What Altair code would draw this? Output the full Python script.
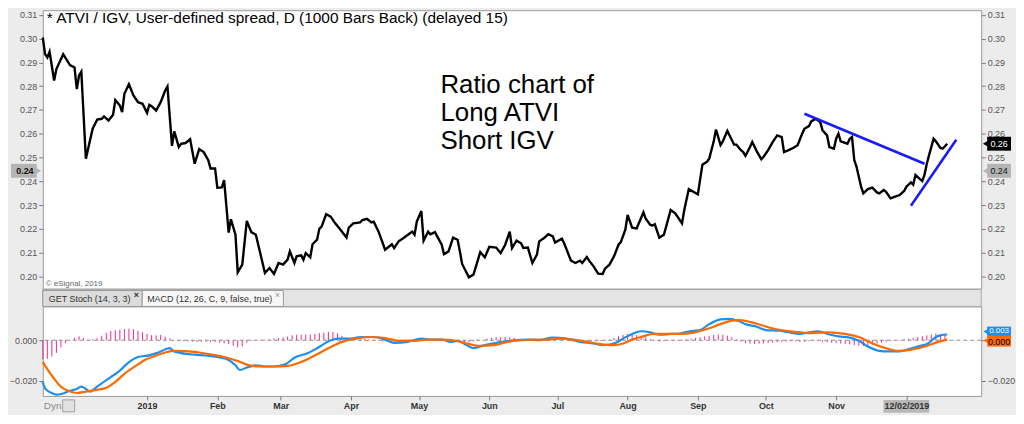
import altair as alt
import pandas as pd

FONT = "Liberation Sans"

# ---------------- data: ATVI / IGV ratio ----------------
ratio_dates = [
    "2018-11-16", "2018-11-17", "2018-11-18", "2018-11-19", "2018-11-21", "2018-11-22", "2018-11-25", "2018-11-28", "2018-11-30",
    "2018-12-01", "2018-12-02", "2018-12-03", "2018-12-05", "2018-12-08", "2018-12-10", "2018-12-12", "2018-12-13", "2018-12-15",
    "2018-12-17", "2018-12-18", "2018-12-20", "2018-12-21", "2018-12-22", "2018-12-24", "2018-12-26", "2018-12-28", "2018-12-30",
    "2019-01-01", "2019-01-02", "2019-01-03", "2019-01-05", "2019-01-07", "2019-01-09", "2019-01-10", "2019-01-12", "2019-01-13",
    "2019-01-15", "2019-01-16", "2019-01-18", "2019-01-20", "2019-01-22", "2019-01-24", "2019-01-26", "2019-01-28", "2019-01-29", "2019-01-31",
    "2019-02-01", "2019-02-03", "2019-02-04", "2019-02-06", "2019-02-07", "2019-02-09", "2019-02-10", "2019-02-12", "2019-02-14",
    "2019-02-16", "2019-02-18", "2019-02-22", "2019-02-24", "2019-02-26", "2019-02-28",
    "2019-03-02", "2019-03-04", "2019-03-05", "2019-03-07", "2019-03-08", "2019-03-10", "2019-03-11", "2019-03-12", "2019-03-14",
    "2019-03-15", "2019-03-17", "2019-03-18", "2019-03-19", "2019-03-21", "2019-03-23", "2019-03-25", "2019-03-27", "2019-03-28",
    "2019-03-30", "2019-03-31",
    "2019-04-02", "2019-04-05", "2019-04-06", "2019-04-08", "2019-04-10", "2019-04-11", "2019-04-13", "2019-04-15", "2019-04-16",
    "2019-04-19", "2019-04-20", "2019-04-22", "2019-04-24", "2019-04-27", "2019-04-28", "2019-04-29", "2019-04-30",
    "2019-05-02", "2019-05-03", "2019-05-05", "2019-05-06", "2019-05-08", "2019-05-09", "2019-05-11", "2019-05-12", "2019-05-14",
    "2019-05-16", "2019-05-18", "2019-05-19", "2019-05-20", "2019-05-23", "2019-05-25", "2019-05-27", "2019-05-28", "2019-05-30",
    "2019-06-01", "2019-06-04", "2019-06-06", "2019-06-08", "2019-06-10", "2019-06-11", "2019-06-13", "2019-06-15", "2019-06-16",
    "2019-06-18", "2019-06-20", "2019-06-22", "2019-06-23", "2019-06-25", "2019-06-27", "2019-06-29", "2019-06-30",
    "2019-07-03", "2019-07-04", "2019-07-07", "2019-07-09", "2019-07-11", "2019-07-12", "2019-07-14", "2019-07-15", "2019-07-17",
    "2019-07-19", "2019-07-21", "2019-07-22", "2019-07-24", "2019-07-26", "2019-07-28", "2019-07-29", "2019-07-31",
    "2019-08-01", "2019-08-03", "2019-08-05", "2019-08-08", "2019-08-09", "2019-08-11", "2019-08-12", "2019-08-13", "2019-08-15",
    "2019-08-17", "2019-08-18", "2019-08-20", "2019-08-22", "2019-08-23", "2019-08-25", "2019-08-26", "2019-08-28", "2019-08-30",
    "2019-09-01", "2019-09-03", "2019-09-05", "2019-09-06", "2019-09-08", "2019-09-09", "2019-09-11", "2019-09-12", "2019-09-14",
    "2019-09-15", "2019-09-17", "2019-09-18", "2019-09-20", "2019-09-21", "2019-09-22", "2019-09-24", "2019-09-25", "2019-09-27",
    "2019-09-29", "2019-09-30",
    "2019-10-02", "2019-10-04", "2019-10-06", "2019-10-08", "2019-10-09", "2019-10-11", "2019-10-13", "2019-10-15", "2019-10-17",
    "2019-10-18", "2019-10-20", "2019-10-21", "2019-10-23", "2019-10-25", "2019-10-26", "2019-10-28", "2019-10-29", "2019-10-31",
    "2019-11-01", "2019-11-02", "2019-11-03", "2019-11-04", "2019-11-06", "2019-11-07", "2019-11-08", "2019-11-09", "2019-11-10",
    "2019-11-12", "2019-11-13", "2019-11-15", "2019-11-17", "2019-11-19", "2019-11-20", "2019-11-22", "2019-11-23", "2019-11-25",
    "2019-11-27", "2019-11-29",
    "2019-12-01", "2019-12-02", "2019-12-04", "2019-12-05", "2019-12-06", "2019-12-08", "2019-12-09", "2019-12-10", "2019-12-11",
    "2019-12-12", "2019-12-14", "2019-12-15", "2019-12-17", "2019-12-18", "2019-12-20",
]
ratio_values = [
    0.3005, 0.2935, 0.2921, 0.2945, 0.2824, 0.2872, 0.2935, 0.2889, 0.2879,
    0.2788, 0.2845, 0.2861, 0.2495, 0.2621, 0.2660, 0.2663, 0.2673, 0.2656, 0.2680, 0.2742, 0.2719, 0.2691, 0.2768, 0.2808,
    0.2761, 0.2733, 0.2726,
    0.2688, 0.2722, 0.2716, 0.2698, 0.2733, 0.2782, 0.2799, 0.2549, 0.2610, 0.2544, 0.2558, 0.2561, 0.2577, 0.2474, 0.2535,
    0.2523, 0.2489, 0.2454, 0.2454,
    0.2373, 0.2374, 0.2405, 0.2184, 0.2240, 0.2175, 0.2017, 0.2049, 0.2233, 0.2186, 0.2175, 0.2014, 0.2035, 0.2010, 0.2056,
    0.2049, 0.2070, 0.2105, 0.2056, 0.2084, 0.2088, 0.2070, 0.2098, 0.2080, 0.2135, 0.2154, 0.2200, 0.2209, 0.2261, 0.2251,
    0.2223, 0.2200, 0.2188, 0.2163, 0.2205,
    0.2223, 0.2227, 0.2237, 0.2242, 0.2227, 0.2230, 0.2191, 0.2139, 0.2112, 0.2135, 0.2119, 0.2147, 0.2160, 0.2181, 0.2188,
    0.2175, 0.2230,
    0.2275, 0.2150, 0.2188, 0.2177, 0.2186, 0.2168, 0.2133, 0.2093, 0.2105, 0.2163, 0.2154, 0.2105, 0.2052, 0.1996, 0.2007,
    0.2070, 0.2102, 0.2080,
    0.2124, 0.2121, 0.2098, 0.2133, 0.2188, 0.2119, 0.2150, 0.2139, 0.2119, 0.2121, 0.2056, 0.2091, 0.2147, 0.2160, 0.2177,
    0.2168, 0.2142,
    0.2158, 0.2139, 0.2066, 0.2056, 0.2066, 0.2056, 0.2081, 0.2066, 0.2042, 0.2011, 0.2010, 0.2032, 0.2049, 0.2084, 0.2133,
    0.2144, 0.2196,
    0.2258, 0.2205, 0.2202, 0.2269, 0.2242, 0.2216, 0.2214, 0.2219, 0.2163, 0.2175, 0.2209, 0.2279, 0.2265, 0.2251, 0.2223,
    0.2279, 0.2367, 0.2356,
    0.2345, 0.2470, 0.2482, 0.2495, 0.2568, 0.2618, 0.2552, 0.2568, 0.2612, 0.2593, 0.2554, 0.2554, 0.2531, 0.2523, 0.2507,
    0.2544, 0.2565, 0.2526, 0.2493, 0.2503,
    0.2531, 0.2565, 0.2593, 0.2586, 0.2523, 0.2531, 0.2540, 0.2552, 0.2600, 0.2621, 0.2632, 0.2652, 0.2663, 0.2649, 0.2614,
    0.2593, 0.2544, 0.2537,
    0.2579, 0.2600, 0.2568, 0.2565, 0.2558, 0.2579, 0.2586, 0.2489, 0.2461, 0.2377, 0.2349, 0.2367, 0.2373, 0.2353, 0.2349,
    0.2363, 0.2356, 0.2328, 0.2335, 0.2342,
    0.2359, 0.2377, 0.2395, 0.2386, 0.2426, 0.2409, 0.2401, 0.2428, 0.2474, 0.2510, 0.2579, 0.2568, 0.2540, 0.2537, 0.2558,
]

# hand-drawn trend lines
trend_segment = ["resistance", "resistance", "support", "support"]
trend_dates = ["2019-10-18", "2019-12-10", "2019-12-04", "2019-12-24"]
trend_values = [0.2684, 0.2474, 0.2297, 0.2575]

# price tags on the ratio axis
tag_values = [0.2558, 0.2444]
tag_labels = ["0.26", "0.24"]
tag_fills = ["#000000", "#b4b4b4"]
tag_text_colors = ["#ffffff", "#111111"]
cursor_value = [0.2444]
cursor_label = ["0.24"]
cursor_date = ["2019-12-02"]

# ---------------- data: MACD (12, 26, 9) ----------------
macd_dates = [
    "2018-11-16", "2018-11-17", "2018-11-20", "2018-11-22", "2018-11-24", "2018-11-28", "2018-12-01", "2018-12-03", "2018-12-05",
    "2018-12-07", "2018-12-09", "2018-12-12", "2018-12-16", "2018-12-20", "2018-12-24", "2018-12-28", "2019-01-02", "2019-01-06",
    "2019-01-11", "2019-01-13", "2019-01-16", "2019-01-22", "2019-01-27", "2019-02-01", "2019-02-06", "2019-02-09", "2019-02-11",
    "2019-02-14", "2019-02-18", "2019-02-22", "2019-02-26", "2019-03-03", "2019-03-07", "2019-03-13", "2019-03-17", "2019-03-23",
    "2019-03-26", "2019-04-01", "2019-04-05", "2019-04-11", "2019-04-16", "2019-04-20", "2019-04-26", "2019-05-02", "2019-05-06",
    "2019-05-11", "2019-05-15", "2019-05-18", "2019-05-22", "2019-05-25", "2019-05-30", "2019-06-04", "2019-06-10", "2019-06-18",
    "2019-06-23", "2019-06-29", "2019-07-05", "2019-07-11", "2019-07-17", "2019-07-21", "2019-07-26", "2019-07-30", "2019-08-03",
    "2019-08-07", "2019-08-11", "2019-08-15", "2019-08-20", "2019-08-24", "2019-08-28", "2019-09-02", "2019-09-06", "2019-09-11",
    "2019-09-15", "2019-09-19", "2019-09-22", "2019-09-27", "2019-10-01", "2019-10-07", "2019-10-11", "2019-10-16", "2019-10-20",
    "2019-10-24", "2019-10-29", "2019-11-02", "2019-11-07", "2019-11-11", "2019-11-15", "2019-11-20", "2019-11-24", "2019-11-29",
    "2019-12-03", "2019-12-07", "2019-12-12", "2019-12-15", "2019-12-17", "2019-12-20",
]
macd_values = [
    -0.0204, -0.0236, -0.0259, -0.0267, -0.0264, -0.0248, -0.0239, -0.0228, -0.0239,
    -0.0252, -0.0236, -0.0212, -0.0181, -0.0149, -0.0107, -0.0082, -0.0074, -0.0060,
    -0.0039, -0.0055, -0.0063, -0.0071, -0.0075, -0.0082, -0.0097, -0.0123, -0.0146,
    -0.0134, -0.0123, -0.0129, -0.0129, -0.0118, -0.0086, -0.0063, -0.0039, 0.0000,
    0.0008, 0.0008, 0.0016, 0.0016, 0.0003, -0.0013, -0.0008, 0.0008, 0.0003,
    0.0003, -0.0008, -0.0003, -0.0024, -0.0039, -0.0024, -0.0013, -0.0003, 0.0003,
    0.0000, 0.0013, 0.0008, -0.0008, -0.0016, -0.0024, -0.0016, 0.0008, 0.0031,
    0.0044, 0.0039, 0.0027, 0.0031, 0.0033, 0.0043, 0.0050, 0.0079, 0.0102,
    0.0105, 0.0094, 0.0079, 0.0066, 0.0050, 0.0047, 0.0039, 0.0031, 0.0039,
    0.0044, 0.0028, 0.0019, 0.0013, -0.0003, -0.0031, -0.0052, -0.0055, -0.0055,
    -0.0044, -0.0031, -0.0013, 0.0016, 0.0024, 0.0028,
]
signal_dates = [
    "2018-11-16", "2018-11-18", "2018-11-21", "2018-11-24", "2018-11-28", "2018-12-01", "2018-12-05", "2018-12-09", "2018-12-14",
    "2018-12-18", "2018-12-22", "2018-12-27", "2018-12-31", "2019-01-05", "2019-01-09", "2019-01-13", "2019-01-18", "2019-01-24",
    "2019-01-30", "2019-02-04", "2019-02-10", "2019-02-15", "2019-02-20", "2019-02-26", "2019-03-04", "2019-03-10", "2019-03-16",
    "2019-03-22", "2019-03-28", "2019-04-02", "2019-04-10", "2019-04-16", "2019-04-22", "2019-04-29", "2019-05-05", "2019-05-11",
    "2019-05-16", "2019-05-22", "2019-05-28", "2019-06-03", "2019-06-09", "2019-06-15", "2019-06-21", "2019-06-26", "2019-07-02",
    "2019-07-08", "2019-07-14", "2019-07-20", "2019-07-26", "2019-07-30", "2019-08-03", "2019-08-08", "2019-08-12", "2019-08-18",
    "2019-08-24", "2019-08-30", "2019-09-05", "2019-09-11", "2019-09-15", "2019-09-19", "2019-09-24", "2019-09-30", "2019-10-05",
    "2019-10-13", "2019-10-21", "2019-10-29", "2019-11-05", "2019-11-11", "2019-11-17", "2019-11-23", "2019-11-28", "2019-12-04",
    "2019-12-10", "2019-12-16", "2019-12-20",
]
signal_values = [
    -0.0107, -0.0142, -0.0189, -0.0228, -0.0252, -0.0259, -0.0252, -0.0245, -0.0233,
    -0.0204, -0.0165, -0.0126, -0.0097, -0.0075, -0.0060, -0.0052, -0.0053, -0.0060,
    -0.0071, -0.0082, -0.0102, -0.0123, -0.0129, -0.0129, -0.0126, -0.0107, -0.0075,
    -0.0039, -0.0008, 0.0006, 0.0016, 0.0011, -0.0003, -0.0003, 0.0003, 0.0003,
    0.0000, -0.0016, -0.0028, -0.0024, -0.0008, 0.0000, 0.0003, 0.0003, 0.0008,
    0.0003, -0.0008, -0.0019, -0.0024, -0.0016, 0.0003, 0.0019, 0.0031, 0.0031,
    0.0031, 0.0037, 0.0055, 0.0079, 0.0094, 0.0099, 0.0090, 0.0071, 0.0055,
    0.0042, 0.0035, 0.0039, 0.0031, 0.0016, -0.0016, -0.0039, -0.0052, -0.0047,
    -0.0031, -0.0008, 0.0003,
]
# histogram, one bar every second day from hist_start
hist_start = "2018-11-16"
hist_values = [
    -0.0094, -0.0091, -0.0080, -0.0062, -0.0035, -0.0015, -0.0004, 0.0012, 0.0019, 0.0012,
    0.0002, 0.0005, 0.0010, 0.0022, 0.0036, 0.0045, 0.0049, 0.0052, 0.0055, 0.0057,
    0.0054, 0.0046, 0.0039, 0.0031, 0.0025, 0.0024, 0.0026, 0.0018, 0.0009, 0.0002,
    -0.0004, -0.0005, -0.0006, -0.0007, -0.0008, -0.0008, -0.0007, -0.0008, -0.0009, -0.0012,
    -0.0015, -0.0019, -0.0027, -0.0035, -0.0030, -0.0012, -0.0004, 0.0000, 0.0002, 0.0003,
    0.0004, 0.0008, 0.0011, 0.0014, 0.0018, 0.0024, 0.0026, 0.0027, 0.0028, 0.0028,
    0.0031, 0.0035, 0.0037, 0.0041, 0.0041, 0.0034, 0.0022, 0.0012, 0.0008, 0.0006,
    0.0005, 0.0006, 0.0004, 0.0002, -0.0003, -0.0006, -0.0008, -0.0006, -0.0003, 0.0002,
    0.0004, 0.0005, 0.0003, 0.0004, 0.0002, 0.0000, -0.0002, -0.0003, -0.0002, -0.0004,
    -0.0006, -0.0005, -0.0007, -0.0010, -0.0009, -0.0006, -0.0004, 0.0002, 0.0008, 0.0012,
    0.0014, 0.0015, 0.0016, 0.0014, 0.0012, 0.0006, 0.0003, 0.0001, -0.0002, -0.0003,
    0.0002, 0.0004, 0.0006, 0.0005, 0.0003, 0.0000, -0.0003, -0.0006, -0.0007, -0.0008,
    -0.0006, -0.0005, -0.0006, -0.0004, -0.0002, 0.0004, 0.0012, 0.0020, 0.0026, 0.0030,
    0.0028, 0.0025, 0.0022, 0.0014, 0.0006, -0.0002, -0.0006, -0.0005, -0.0003, -0.0002,
    0.0001, 0.0003, 0.0004, 0.0008, 0.0012, 0.0015, 0.0018, 0.0022, 0.0026, 0.0028,
    0.0027, 0.0022, 0.0015, 0.0004, -0.0008, -0.0014, -0.0017, -0.0018, -0.0017, -0.0016,
    -0.0014, -0.0012, -0.0010, -0.0008, -0.0007, -0.0005, -0.0006, -0.0009, -0.0008, -0.0005,
    -0.0003, -0.0004, -0.0008, -0.0010, -0.0012, -0.0014, -0.0016, -0.0018, -0.0020, -0.0024,
    -0.0027, -0.0028, -0.0025, -0.0020, -0.0016, -0.0012, -0.0008, -0.0004, -0.0001, 0.0002,
    0.0005, 0.0008, 0.0012, 0.0016, 0.0020, 0.0024, 0.0028, 0.0033, 0.0030, 0.0026,
]
macd_tag_value = [0.0028]
macd_tag_label = ["0.003"]
signal_tag_value = [0.0003]
signal_tag_label = ["0.000"]

# ---------------- axis ticks / text ----------------
ratio_ticks = [0.20, 0.21, 0.22, 0.23, 0.24, 0.25, 0.26, 0.27, 0.28, 0.29, 0.30, 0.31]
macd_ticks = [0.0, -0.02]
date_ticks = [(2019, m, 1) for m in range(1, 12)] + [(2019, 12, 2)]
title_text = ["* ATVI / IGV, User-defined spread, D (1000 Bars Back) (delayed 15)"]
note_lines = ["Ratio chart of", "Long ATVI", "Short IGV"]
copyright_text = ["\u00a9 eSignal, 2019"]
tab_labels = ["GET Stoch (14, 3, 3)", "MACD (12, 26, C, 9, false, true)"]
close_mark = ["\u00d7"]
dyn_label = ["Dyn"]

# ---------------- layout ----------------
W, H1, H2 = 944, 280, 90
Y1 = [0.19485, 0.3120]
Y2 = [-0.02732, 0.01659]
x_scale = alt.Scale(domain=[alt.DateTime(year=2018, month=11, date=16),
                            alt.DateTime(year=2020, month=1, date=4)])


def s1():
    return alt.Scale(domain=Y1, nice=False, zero=False)


def s2():
    return alt.Scale(domain=Y2, nice=False, zero=False)


axis_common = dict(grid=False, domain=False, ticks=True, tickSize=4, tickColor="#7a7a7a",
                   labelColor="#555555", labelFontSize=9, labelFont=FONT, labelPadding=2, title=None)

X_top = alt.X("date:T", scale=x_scale, axis=None)
label_expr = ("month(datum.value) == 0 ? timeFormat(datum.value, '%Y') : "
              "(month(datum.value) == 11 ? timeFormat(datum.value, '%m/%d/%Y') : timeFormat(datum.value, '%b'))")
x_axis = alt.Axis(values=[alt.DateTime(year=y, month=m, date=d) for y, m, d in date_ticks],
                  labelExpr=label_expr, labelFontWeight="bold", labelFontSize=9, labelFont=FONT,
                  labelColor="#333333", tickSize=4, tickColor="#7a7a7a", domain=False, grid=False,
                  title=None, labelPadding=2, zindex=1, labelOverlap=False)
X_bot = alt.X("date:T", scale=x_scale, axis=x_axis)


def txt(s):
    return pd.DataFrame({"t": s})


# ---------------- top panel ----------------
ratio_df = pd.DataFrame({"date": pd.to_datetime(ratio_dates), "ratio": ratio_values})
trend_df = pd.DataFrame({"seg": trend_segment, "date": pd.to_datetime(trend_dates), "ratio": trend_values})
tag_df = pd.DataFrame({"ratio": tag_values, "label": tag_labels, "fill": tag_fills, "tc": tag_text_colors})
cur_df = pd.DataFrame({"ratio": cursor_value, "label": cursor_label})

main_line = alt.Chart(ratio_df).mark_line(color="#000000", strokeWidth=2.4).encode(
    x=X_top,
    y=alt.Y("ratio:Q", scale=s1(), axis=alt.Axis(orient="left", values=ratio_ticks, format=".2f", **axis_common)),
)
trend = alt.Chart(trend_df).mark_line(color="#1a1aff", strokeWidth=2.6).encode(
    x=X_top, y=alt.Y("ratio:Q", scale=s1(), axis=None), detail="seg:N")

tag_rect = alt.Chart(tag_df).mark_rect(yOffset=-7, y2Offset=7).encode(
    x=alt.value(W + 6), x2=alt.value(W + 30),
    y=alt.Y("ratio:Q", scale=s1(), axis=alt.Axis(orient="right", values=ratio_ticks, format=".2f", **axis_common)),
    y2="ratio:Q", fill=alt.Fill("fill:N", scale=None))
tag_tip = alt.Chart(tag_df).mark_point(shape="triangle-left", filled=True, size=60, opacity=1).encode(
    x=alt.value(W + 5), y=alt.Y("ratio:Q", scale=s1(), axis=None), fill=alt.Fill("fill:N", scale=None),
    stroke=alt.value(None))
tag_text = alt.Chart(tag_df).mark_text(align="center", baseline="middle", fontSize=9, font=FONT).encode(
    x=alt.value(W + 18), y=alt.Y("ratio:Q", scale=s1(), axis=None), text="label:N",
    color=alt.Color("tc:N", scale=None))

left_rect = alt.Chart(cur_df).mark_rect(yOffset=-7, y2Offset=7, fill="#b4b4b4").encode(
    x=alt.value(-32), x2=alt.value(-6), y=alt.Y("ratio:Q", scale=s1(), axis=None), y2="ratio:Q")
left_tip = alt.Chart(cur_df).mark_point(shape="triangle-right", filled=True, size=60, fill="#b4b4b4",
                                        stroke=None, opacity=1).encode(
    x=alt.value(-5), y=alt.Y("ratio:Q", scale=s1(), axis=None))
left_text = alt.Chart(cur_df).mark_text(align="center", baseline="middle", fontSize=9, font=FONT,
                                        fontWeight="bold", color="#111111").encode(
    x=alt.value(-18), y=alt.Y("ratio:Q", scale=s1(), axis=None), text="label:N")

title = alt.Chart(txt(title_text)).mark_text(align="left", baseline="middle", fontSize=15.5, font=FONT,
                                             color="#000000").encode(
    x=alt.value(4), y=alt.value(8), text="t:N")
notes = [alt.Chart(txt([s])).mark_text(align="left", baseline="alphabetic", fontSize=26, font=FONT,
                                       color="#000000").encode(
    x=alt.value(400), y=alt.value(83 + 28.5 * i), text="t:N") for i, s in enumerate(note_lines)]
copyright_ = alt.Chart(txt(copyright_text)).mark_text(align="left", baseline="middle", fontSize=8, font=FONT,
                                                      color="#666666").encode(
    x=alt.value(3), y=alt.value(H1 - 5), text="t:N")

top = alt.layer(main_line, trend, tag_rect, tag_tip, tag_text, left_rect, left_tip, left_text,
                title, *notes, copyright_).resolve_scale(y="independent").properties(width=W, height=H1)

# ---------------- bottom panel ----------------
hist_df = pd.DataFrame({"date": pd.date_range(hist_start, periods=len(hist_values), freq="2D"), "h": hist_values})
macd_df = pd.DataFrame({"date": pd.to_datetime(macd_dates), "v": macd_values})
sig_df = pd.DataFrame({"date": pd.to_datetime(signal_dates), "v": signal_values})
btag_df = pd.DataFrame({"v": macd_tag_value, "label": macd_tag_label})
otag_df = pd.DataFrame({"v": signal_tag_value, "label": signal_tag_label})
zero_df = pd.DataFrame({"z": [0.0]})
cursor_df = pd.DataFrame({"date": pd.to_datetime(cursor_date)})

hist = alt.Chart(hist_df).mark_rule(color="#f0288c", strokeWidth=1).encode(
    x=X_bot,
    y=alt.Y("h:Q", scale=s2(), axis=alt.Axis(orient="left", values=macd_ticks, format=".3f", **axis_common)),
    y2=alt.datum(0))
zero = alt.Chart(zero_df).mark_rule(color="#8c8c8c", strokeDash=[4, 3], strokeWidth=1).encode(
    y=alt.Y("z:Q", scale=s2(), axis=None))
blue = alt.Chart(macd_df).mark_line(color="#1e8ff0", strokeWidth=2.2, interpolate="monotone").encode(
    x=X_bot, y=alt.Y("v:Q", scale=s2(), axis=None))
orange = alt.Chart(sig_df).mark_line(color="#ff6a00", strokeWidth=2.2, interpolate="monotone").encode(
    x=X_bot, y=alt.Y("v:Q", scale=s2(), axis=None))

btag_rect = alt.Chart(btag_df).mark_rect(yOffset=-8, y2Offset=2, fill="#1e8ff0").encode(
    x=alt.value(W + 6), x2=alt.value(W + 30),
    y=alt.Y("v:Q", scale=s2(), axis=alt.Axis(orient="right", values=macd_ticks, format=".3f", **axis_common)),
    y2="v:Q")
btag_tip = alt.Chart(btag_df).mark_point(shape="triangle-left", filled=True, size=40, fill="#1e8ff0",
                                         stroke=None, opacity=1, yOffset=-3).encode(
    x=alt.value(W + 5), y=alt.Y("v:Q", scale=s2(), axis=None))
btag_text = alt.Chart(btag_df).mark_text(align="center", baseline="middle", fontSize=8, font=FONT,
                                         color="#ffffff", dy=-4).encode(
    x=alt.value(W + 18), y=alt.Y("v:Q", scale=s2(), axis=None), text="label:N")
otag_rect = alt.Chart(otag_df).mark_rect(yOffset=-4, y2Offset=7, fill="#ff6a00").encode(
    x=alt.value(W + 6), x2=alt.value(W + 30), y=alt.Y("v:Q", scale=s2(), axis=None), y2="v:Q")
otag_tip = alt.Chart(otag_df).mark_point(shape="triangle-left", filled=True, size=40, fill="#ff6a00",
                                         stroke=None, opacity=1, yOffset=1).encode(
    x=alt.value(W + 5), y=alt.Y("v:Q", scale=s2(), axis=None))
otag_text = alt.Chart(otag_df).mark_text(align="center", baseline="middle", fontSize=9, font=FONT,
                                         color="#000000", dy=2).encode(
    x=alt.value(W + 18), y=alt.Y("v:Q", scale=s2(), axis=None), text="label:N")

one = txt([""])
tab_row = alt.Chart(one).mark_rect(fill="#e4e4e4", stroke="#a8a8a8", strokeWidth=1).encode(
    x=alt.value(0), x2=alt.value(W), y=alt.value(-17), y2=alt.value(0))
tab1 = alt.Chart(one).mark_rect(fill="#dcdcdc", stroke="#9a9a9a", strokeWidth=1).encode(
    x=alt.value(0), x2=alt.value(100), y=alt.value(-16), y2=alt.value(0))
tab2 = alt.Chart(one).mark_rect(fill="#f7f7f7", stroke="#9a9a9a", strokeWidth=1).encode(
    x=alt.value(100), x2=alt.value(242), y=alt.value(-16), y2=alt.value(0))
tab1_text = alt.Chart(txt([tab_labels[0]])).mark_text(align="left", baseline="middle", fontSize=9, font=FONT,
                                                      color="#333333").encode(
    x=alt.value(6), y=alt.value(-7), text="t:N")
tab2_text = alt.Chart(txt([tab_labels[1]])).mark_text(align="left", baseline="middle", fontSize=9, font=FONT,
                                                      color="#333333").encode(
    x=alt.value(105), y=alt.value(-7), text="t:N")
x1 = alt.Chart(txt(close_mark)).mark_text(align="center", baseline="middle", fontSize=9, font=FONT,
                                          fontWeight="bold", color="#333333").encode(
    x=alt.value(94), y=alt.value(-11), text="t:N")
x2 = alt.Chart(txt(close_mark)).mark_text(align="center", baseline="middle", fontSize=9, font=FONT,
                                          color="#999999").encode(
    x=alt.value(236), y=alt.value(-11), text="t:N")

cursor_rect = alt.Chart(cursor_df).mark_rect(xOffset=-23, x2Offset=23, fill="#b8b8b8").encode(
    x=X_bot, x2="date:T", y=alt.value(H2 + 4), y2=alt.value(H2 + 17))
dyn = alt.Chart(txt(dyn_label)).mark_text(align="left", baseline="middle", fontSize=10, font=FONT,
                                          color="#8a8a8a").encode(
    x=alt.value(1), y=alt.value(H2 + 10), text="t:N")
lock = alt.Chart(one).mark_rect(fill="#e2e2e2", stroke="#a0a0a0", strokeWidth=1).encode(
    x=alt.value(20), x2=alt.value(32), y=alt.value(H2 + 4), y2=alt.value(H2 + 16))

bottom = alt.layer(hist, zero, blue, orange,
                   btag_rect, btag_tip, btag_text, otag_rect, otag_tip, otag_text,
                   tab_row, tab1, tab2, tab1_text, tab2_text, x1, x2,
                   cursor_rect, dyn, lock).resolve_scale(y="independent").properties(width=W, height=H2)

chart = (
    alt.vconcat(top, bottom, spacing=18, bounds="flush")
    .properties(padding={"left": 0, "right": 0, "top": 0, "bottom": 0})
    .configure(background="#ececec", font=FONT)
    .configure_view(stroke="#9a9a9a", strokeWidth=1, fill="#ffffff")
)

chart.save("out.html", embed_options={"renderer": "svg", "actions": False})
